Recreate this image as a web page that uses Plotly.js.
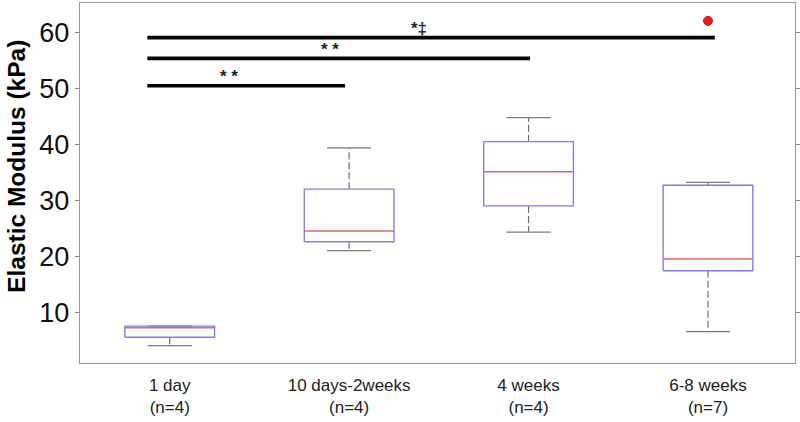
<!DOCTYPE html>
<html>
<head>
<meta charset="utf-8">
<script src="https://cdn.plot.ly/plotly-3.0.1.min.js"></script>
<style>html,body{margin:0;padding:0;background:#fff;}#chart{width:800px;height:422px;}</style>
</head>
<body>
<div id="chart"></div>
<script>
// ---- data ----
const categories = ['1 day<br>(n=4)', '10 days-2weeks<br>(n=4)', '4 weeks<br>(n=4)', '6-8 weeks<br>(n=7)'];
const lowerWhisker = [4.0, 21.0, 24.3, 6.5];
const q1 = [5.5, 22.6, 29.0, 17.4];
const median = [7.2, 24.5, 35.1, 19.5];
const q3 = [7.5, 32.0, 40.5, 32.7];
const upperWhisker = [7.5, 39.4, 44.8, 33.2];
const outlierGroup = [3];
const outlierValue = [62.1];
const sigStart = [-0.125, -0.125, -0.125];
const sigEnd = [0.977, 2.008, 3.038];
const sigLevel = [50.5, 55.4, 59.1];
const sigLabel = ['* *', '* *', '*\u2021'];
const sigLabelX = [0.33, 0.894, 1.39];

// ---- styles ----
const boxHalf = 0.25, capHalf = 0.123;
const idx = categories.map((_, i) => i);

const boxX = [], boxY = [], medX = [], medY = [], whX = [], whY = [], capX = [], capY = [];
idx.forEach(i => {
  boxX.push(i - boxHalf, i + boxHalf, i + boxHalf, i - boxHalf, i - boxHalf, null);
  boxY.push(q1[i], q1[i], q3[i], q3[i], q1[i], null);
  medX.push(i - boxHalf, i + boxHalf, null);
  medY.push(median[i], median[i], null);
  whX.push(i, i, null, i, i, null);
  whY.push(q3[i], upperWhisker[i], null, q1[i], lowerWhisker[i], null);
  capX.push(i - capHalf, i + capHalf, null, i - capHalf, i + capHalf, null);
  capY.push(upperWhisker[i], upperWhisker[i], null, lowerWhisker[i], lowerWhisker[i], null);
});

const sigX = [], sigY = [];
sigLevel.forEach((v, k) => { sigX.push(sigStart[k], sigEnd[k], null); sigY.push(v, v, null); });

const traces = [
  {x: whX, y: whY, mode: 'lines', line: {color: '#6e6e6e', width: 1.2, dash: '7px,3px'}, hoverinfo: 'skip'},
  {x: capX, y: capY, mode: 'lines', line: {color: '#7a7a7a', width: 1.3}, hoverinfo: 'skip'},
  {x: boxX, y: boxY, mode: 'lines', line: {color: '#8080e2', width: 1.4}, hoverinfo: 'skip'},
  {x: medX, y: medY, mode: 'lines', line: {color: '#e2646e', width: 1.4}, hoverinfo: 'skip'},
  {x: outlierGroup, y: outlierValue, mode: 'markers', marker: {color: '#f21c1c', size: 9, line: {color: '#d01010', width: 1}}, hoverinfo: 'skip'},
  {x: sigX, y: sigY, mode: 'lines', line: {color: '#000', width: 3.6}, hoverinfo: 'skip'}
];

const annotations = sigLabel.map((t, k) => ({
  x: sigLabelX[k], y: sigLevel[k], xref: 'x', yref: 'y', text: '<b>' + t + '</b>', showarrow: false,
  xanchor: 'center', yanchor: 'middle', yshift: 9,
  font: {family: 'Liberation Sans, Arial, sans-serif', size: 17, color: '#222'}
}));
annotations.push({
  text: '<b>Elastic Modulus (kPa)</b>', xref: 'paper', yref: 'paper', x: -0.088, y: 0.545,
  xanchor: 'center', yanchor: 'middle', textangle: -90, showarrow: false,
  font: {family: 'Liberation Sans, Arial, sans-serif', size: 24.5, color: '#000'}
});

const layout = {
  width: 800, height: 422,
  margin: {l: 80, r: 5, t: 3, b: 59},
  paper_bgcolor: '#fff', plot_bgcolor: '#fff',
  showlegend: false,
  xaxis: {
    range: [-0.5, 3.485], tickvals: idx, ticktext: categories,
    showline: true, mirror: true, linecolor: '#9a9a9a', linewidth: 1.2,
    ticks: '', showgrid: false, zeroline: false, ticklabelstandoff: 6,
    tickfont: {family: 'Liberation Sans, Arial, sans-serif', size: 17, color: '#222'}
  },
  yaxis: {
    range: [0.9, 65.3], tickvals: [10, 20, 30, 40, 50, 60],
    showline: true, mirror: 'ticks', linecolor: '#9a9a9a', linewidth: 1.2,
    ticks: 'outside', ticklen: 4, tickcolor: '#8a8a8a', tickwidth: 1.2,
    showgrid: false, zeroline: false,
    tickfont: {family: 'Liberation Sans, Arial, sans-serif', size: 27, color: '#111'}
  },
  annotations: annotations
};

Plotly.newPlot('chart', traces, layout, {displayModeBar: false, staticPlot: true});
</script>
</body>
</html>
